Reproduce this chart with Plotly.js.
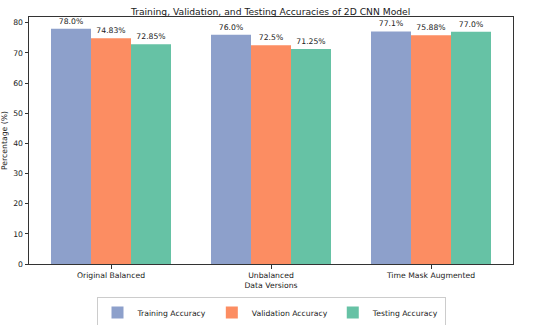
<!DOCTYPE html>
<html>
<head>
<meta charset="utf-8">
<script src="https://cdn.plot.ly/plotly-3.0.1.min.js"></script>
<style>html,body{margin:0;padding:0;background:#fff;}#chart{width:550px;height:325px;}</style>
</head>
<body>
<div id="chart"></div>
<script>
const categories = ["Original Balanced", "Unbalanced", "Time Mask Augmented"];
const seriesNames = ["Training Accuracy", "Validation Accuracy", "Testing Accuracy"];
const training = [78.0, 76.0, 77.1];
const validation = [74.83, 72.5, 75.88];
const testing = [72.85, 71.25, 77.0];
const colors = ["#8da0cb", "#fc8d62", "#66c2a5"];
const yTicks = [0, 10, 20, 30, 40, 50, 60, 70, 80];

function pyStr(v) { return Number.isInteger(v) ? v.toFixed(1) : String(v); }

const allSeries = [training, validation, testing];
const traces = allSeries.map((vals, i) => ({
  type: "bar",
  name: seriesNames[i],
  x: [0, 1, 2],
  y: vals,
  marker: { color: colors[i], line: { width: 0 } },
  text: vals.map(v => pyStr(v) + "%"),
  textposition: "outside",
  cliponaxis: false,
  textfont: { family: "DejaVu Sans", size: 7.7, color: "#222" },
  hoverinfo: "none"
}));

const layout = {
  width: 550, height: 325,
  margin: { l: 29, r: 37, t: 17, b: 61, autoexpand: false },
  paper_bgcolor: "#fff", plot_bgcolor: "#fff",
  font: { family: "DejaVu Sans", size: 7.7, color: "#222" },
  title: { text: "Training, Validation, and Testing Accuracies of 2D CNN Model", font: { size: 9.2, color: "#222" }, x: 0.492, xanchor: "center", y: 0.965, yanchor: "middle" },
  barmode: "group", bargap: 0.25, bargroupgap: 0,
  xaxis: {
    range: [-0.5125, 2.5125], tickvals: [0, 1, 2], ticktext: categories,
    ticks: "outside", ticklen: 3.5, tickcolor: "#333",
    showline: true, linecolor: "#333", linewidth: 1, mirror: true,
    showgrid: false, zeroline: false,
    title: { text: "Data Versions", font: { size: 7.7 }, standoff: 3 }
  },
  yaxis: {
    range: [0, 81.9], tickvals: yTicks,
    ticks: "outside", ticklen: 3.5, tickcolor: "#333",
    showline: true, linecolor: "#333", linewidth: 1, mirror: true,
    showgrid: false, zeroline: false,
    title: { text: "Percentage (%)", font: { size: 7.7 }, standoff: 5 }
  },
  showlegend: true,
  legend: {
    orientation: "h", xref: "paper", x: 0.5, xanchor: "center",
    yref: "container", y: 0.0385, yanchor: "middle",
    itemwidth: 30, tracegroupgap: 0,
    bordercolor: "#ccc", borderwidth: 1, font: { size: 7.7 }
  }
};

Plotly.newPlot("chart", traces, layout, { staticPlot: true });
</script>
</body>
</html>
